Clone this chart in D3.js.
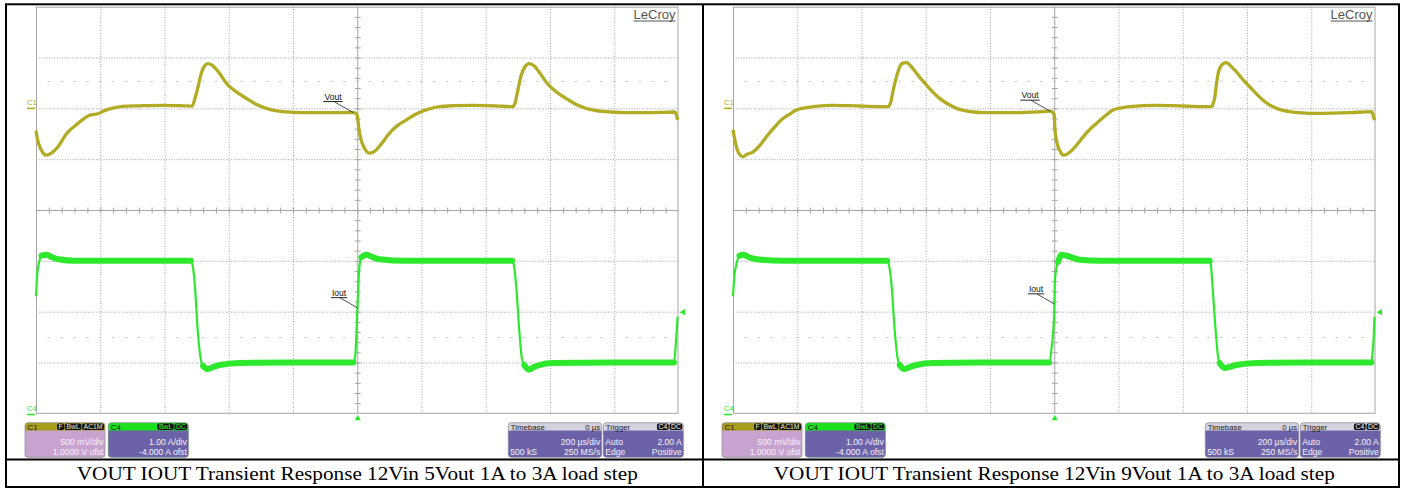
<!DOCTYPE html>
<html>
<head>
<meta charset="utf-8">
<title>VOUT IOUT Transient Response</title>
<script src="https://cdn.jsdelivr.net/npm/d3@7"></script>
<style>
  html, body { margin: 0; padding: 0; background: #fff; }
  svg { display: block; }
</style>
</head>
<body>
<svg id="chart" width="1405" height="489"></svg>
<script>
// ---------------- captured waveforms ----------------
const captions = [
  "VOUT IOUT Transient Response 12Vin 5Vout 1A to 3A load step",
  "VOUT IOUT Transient Response 12Vin 9Vout 1A to 3A load step"
];

// C1: output voltage deviation (V, AC coupled) vs time (µs) — 5 Vout
const vout5 = [
  [-1000,-0.22],[-995,-0.31],[-985,-0.40],[-968,-0.46],[-952,-0.44],[-932,-0.38],[-905,-0.25],
  [-870,-0.15],[-835,-0.07],[-805,-0.05],[-785,-0.02],[-765,0.0],[-730,0.02],[-680,0.025],
  [-606,0.03],[-540,0.025],[-514,0.022],[-505,0.1],[-495,0.22],[-485,0.35],[-475,0.42],
  [-465,0.44],[-452,0.425],[-430,0.35],[-407,0.245],[-375,0.16],[-345,0.098],[-315,0.04],
  [-283,0.0],[-250,-0.025],[-221,-0.035],[-170,-0.042],[-128,-0.043],[-60,-0.042],[-14,-0.041],
  [-4,-0.05],[0,-0.07],[5,-0.2],[12,-0.31],[22,-0.39],[38,-0.44],[55,-0.42],[75,-0.35],
  [100,-0.245],[125,-0.17],[152,-0.115],[180,-0.06],[199,-0.033],[225,-0.005],[256,0.016],
  [300,0.026],[360,0.03],[430,0.025],[484,0.016],[492,0.06],[500,0.18],[510,0.32],[522,0.41],
  [536,0.44],[552,0.415],[570,0.34],[588,0.26],[620,0.16],[650,0.098],[680,0.04],[712,0.0],
  [740,-0.02],[774,-0.033],[830,-0.042],[878,-0.043],[950,-0.04],[987,-0.036],[993,-0.06],[997,-0.115]
];

// C4: load current (A) vs time (µs) — 5 Vout
const iout5 = [
  [-1000,2.3],[-996,2.75],[-991,2.95],[-983,3.1],[-967,3.12],[-950,3.07],[-930,3.03],[-880,3.0],
  [-700,3.0],[-518,3.0],[-512,2.9],[-506,2.56],[-496,1.58],[-488,1.1],[-480,0.93],[-465,0.87],
  [-445,0.92],[-428,0.95],[-366,0.99],[-200,1.0],[-12,1.0],[-6,1.15],[0,2.0],[4,2.6],[8,2.95],
  [13,3.07],[28,3.12],[45,3.08],[69,3.03],[152,3.0],[300,3.0],[482,3.0],[488,2.9],[494,2.56],
  [505,1.58],[512,1.1],[520,0.95],[534,0.86],[550,0.91],[567,0.95],[608,0.99],[800,1.0],
  [986,1.0],[991,1.3],[997,1.9]
];

// C1: output voltage deviation (V) — 9 Vout
const vout9 = [
  [-1000,-0.21],[-993,-0.33],[-984,-0.43],[-969,-0.475],[-955,-0.45],[-938,-0.43],[-915,-0.36],
  [-896,-0.28],[-872,-0.19],[-850,-0.115],[-825,-0.06],[-803,-0.017],[-775,0.005],[-751,0.016],
  [-689,0.03],[-606,0.023],[-518,0.016],[-510,0.05],[-500,0.2],[-491,0.31],[-482,0.4],[-474,0.44],
  [-460,0.45],[-440,0.39],[-420,0.31],[-398,0.23],[-378,0.16],[-357,0.098],[-335,0.05],[-315,0.016],
  [-295,-0.01],[-274,-0.024],[-250,-0.036],[-222,-0.043],[-119,-0.043],[-50,-0.035],[-14,-0.027],
  [-4,-0.04],[0,-0.07],[2,-0.2],[6,-0.3],[12,-0.38],[18,-0.42],[28,-0.46],[40,-0.45],[49,-0.43],
  [70,-0.36],[90,-0.28],[110,-0.21],[132,-0.147],[158,-0.075],[183,-0.017],[210,0.005],[235,0.016],
  [318,0.03],[401,0.023],[490,0.016],[495,0.05],[500,0.115],[505,0.24],[510,0.34],[518,0.41],
  [526,0.44],[536,0.45],[550,0.415],[567,0.36],[588,0.28],[609,0.21],[630,0.14],[650,0.08],
  [670,0.035],[692,0.0],[712,-0.02],[733,-0.033],[770,-0.045],[816,-0.05],[920,-0.043],
  [987,-0.033],[992,-0.06],[997,-0.115]
];

// C4: load current (A) — 9 Vout
const iout9 = [
  [-1000,2.3],[-995,2.75],[-991,2.89],[-980,3.1],[-968,3.12],[-950,3.07],[-926,3.03],[-843,3.0],
  [-700,3.0],[-520,3.0],[-514,2.9],[-507,2.56],[-496,1.58],[-488,1.1],[-481,0.95],[-468,0.87],
  [-450,0.91],[-429,0.95],[-377,0.99],[-200,1.0],[-16,1.0],[-8,1.3],[0,2.0],[2,2.6],[8,2.9],
  [12,2.98],[23,3.12],[39,3.1],[80,3.02],[142,3.0],[300,3.0],[484,3.0],[488,2.9],[492,2.56],
  [503,1.58],[510,1.1],[515,0.99],[530,0.89],[550,0.92],[567,0.95],[629,0.99],[800,1.0],
  [987,1.0],[991,1.2],[994,1.45],[997,1.9]
];

// ---------------- scope settings ----------------
const timeRange = [-1000, 1000];              // µs : 0 µs delay, 200 µs/div
const timeDivs = d3.range(-1000, 1001, 200);
const timeMinor = d3.range(-1000, 1001, 40);
const c1Range = [-3, 1];                      // V : 500 mV/div, 1.0000 V offset
const c1Divs = d3.range(-3, 1.001, 0.5);
const c1Minor = d3.range(-3, 1.001, 0.1);
const c4Range = [0, 8];                       // A : 1.00 A/div, -4.000 A offset
const triggerLevel = 2.0;
const guideV = [0.27];
const guideI = [1.5];

const c1Badges = ["F", "BwL", "AC1M"];
const c1Rows = [["", "500 mV/div"], ["", "1.0000 V ofst"]];
const c4Badges = ["BwL", "DC"];
const c4Rows = [["", "1.00 A/div"], ["", "-4.000 A ofst"]];
const timebaseHead = ["Timebase", "0 µs"];
const timebaseRows = [["", "200 µs/div"], ["500 kS", "250 MS/s"]];
const triggerBadges = ["C4", "DC"];
const triggerRows = [["Auto", "2.00 A"], ["Edge", "Positive"]];

// ---------------- drawing ----------------
const svg = d3.select("#chart");
const SANS = "'Liberation Sans', Arial, sans-serif";
const SERIF = "'Liberation Serif', 'Times New Roman', serif";
const VOUT_COLOR = "#b1ac24";
const IOUT_COLOR = "#2de82d";
const GRID_TOP = 6.7, GRID_BOTTOM = 413.3, GRID_W = 642.5;

const panels = [
  { x0: 36,  vout: vout5, iout: iout5, caption: captions[0] },
  { x0: 733, vout: vout9, iout: iout9, caption: captions[1] }
];

function valueAt(series, t) {
  const i = d3.bisector(d => d[0]).left(series, t);
  if (i <= 0) return series[0][1];
  if (i >= series.length) return series[series.length - 1][1];
  const a = series[i - 1], b = series[i];
  return a[1] + (b[1] - a[1]) * (t - a[0]) / (b[0] - a[0]);
}

// split a trace into its nearly-flat stretches (where the noise band shows)
function flatRuns(series, maxSlope) {
  const runs = [];
  let cur = null;
  for (let i = 1; i < series.length; i++) {
    const a = series[i - 1], b = series[i];
    const s = Math.abs((b[1] - a[1]) / (b[0] - a[0]));
    if (s < maxSlope) {
      if (!cur) { cur = [a]; runs.push(cur); }
      cur.push(b);
    } else cur = null;
  }
  return runs;
}

function badgeRow(g, items, rightX, y, textFill) {
  let xr = rightX;
  for (let k = items.length - 1; k >= 0; k--) {
    const t = g.append("text").attr("y", y + 6).attr("font-family", SANS)
      .attr("font-size", 6.8).attr("fill", textFill).text(items[k]);
    const w = t.node().getComputedTextLength() + 3;
    t.attr("x", xr - w + 1.5);
    g.insert("rect", () => t.node()).attr("x", xr - w).attr("y", y + 0.8)
      .attr("width", w).attr("height", 6.6).attr("rx", 1.8).attr("fill", "#111");
    xr -= w + 0.8;
  }
}

function infoBox(g, bx, by, bw, headFill, bodyFill, headLeft, headRight, badges, badgeFill, rows) {
  const bh = 34.6, hh = 8;
  g.append("rect").attr("x", bx).attr("y", by).attr("width", bw).attr("height", bh)
    .attr("rx", 3).attr("fill", headFill);
  g.append("rect").attr("x", bx).attr("y", by + hh).attr("width", bw).attr("height", bh - hh)
    .attr("rx", 3).attr("fill", bodyFill);
  g.append("rect").attr("x", bx).attr("y", by + hh).attr("width", bw).attr("height", 4)
    .attr("fill", bodyFill);
  g.append("rect").attr("x", bx).attr("y", by).attr("width", bw).attr("height", bh)
    .attr("rx", 3).attr("fill", "none").attr("stroke", "#8a8a9a").attr("stroke-width", 0.7);
  g.append("text").attr("x", bx + 2.5).attr("y", by + 6.8).attr("font-family", SANS)
    .attr("font-size", 7.8).attr("fill", "#1a1a1a").text(headLeft);
  if (headRight) {
    g.append("text").attr("x", bx + bw - 1.5).attr("y", by + 6.8).attr("text-anchor", "end")
      .attr("font-family", SANS).attr("font-size", 7.8).attr("fill", "#1a1a1a").text(headRight);
  }
  if (badges) badgeRow(g, badges, bx + bw - 1, by, badgeFill);
  rows.forEach((r, k) => {
    const y = by + 22.3 + k * 10;
    if (r[0]) g.append("text").attr("x", bx + 2).attr("y", y).attr("font-family", SANS)
      .attr("font-size", 8.6).attr("fill", "#f6f2fa").text(r[0]);
    if (r[1]) g.append("text").attr("x", bx + bw - 1.5).attr("y", y).attr("text-anchor", "end")
      .attr("font-family", SANS).attr("font-size", 8.6).attr("fill", "#f6f2fa").text(r[1]);
  });
}

panels.forEach(p => {
  const x = d3.scaleLinear().domain(timeRange).range([p.x0, p.x0 + GRID_W]);
  const yV = d3.scaleLinear().domain(c1Range).range([GRID_BOTTOM, GRID_TOP]);
  const yI = d3.scaleLinear().domain(c4Range).range([GRID_BOTTOM, GRID_TOP]);
  const g = svg.append("g");
  const xc = x(0), yc = yV(-1);

  // dotted graticule
  const grid = g.append("g").attr("stroke", "#9c9c9c").attr("stroke-width", 0.9)
    .attr("stroke-dasharray", "1,1.6");
  grid.selectAll(".vx").data(timeDivs.slice(1, -1).filter(t => t !== 0)).join("line")
    .attr("x1", d => x(d) + 0.5).attr("x2", d => x(d) + 0.5)
    .attr("y1", GRID_TOP).attr("y2", GRID_BOTTOM);
  grid.selectAll(".hy").data(c1Divs.slice(1, -1).filter(v => Math.abs(v + 1) > 1e-6)).join("line")
    .attr("x1", x.range()[0]).attr("x2", x.range()[1])
    .attr("y1", d => yV(d) + 0.5).attr("y2", d => yV(d) + 0.5);

  // faint guide marks
  const guides = g.append("g").attr("stroke", "#c9c9c9").attr("stroke-width", 1);
  [...guideV.map(v => yV(v)), ...guideI.map(a => yI(a))].forEach(y => {
    guides.selectAll(null).data(timeMinor.slice(1, -1)).join("line")
      .attr("x1", d => x(d) - 1.3).attr("x2", d => x(d) + 1.3)
      .attr("y1", y + 0.5).attr("y2", y + 0.5);
  });

  // frame and centre axes
  const solid = g.append("g").attr("stroke", "#a6a6a6").attr("stroke-width", 1).attr("fill", "none");
  solid.append("rect").attr("x", x.range()[0] + 0.5).attr("y", GRID_TOP + 0.5)
    .attr("width", GRID_W - 1).attr("height", GRID_BOTTOM - GRID_TOP - 0.5);
  solid.append("line").attr("x1", x.range()[0]).attr("x2", x.range()[1])
    .attr("y1", yc + 0.5).attr("y2", yc + 0.5);
  solid.append("line").attr("x1", xc + 0.5).attr("x2", xc + 0.5)
    .attr("y1", GRID_TOP).attr("y2", GRID_BOTTOM);
  solid.selectAll(".tx").data(timeMinor.slice(1, -1)).join("line")
    .attr("x1", d => x(d) + 0.5).attr("x2", d => x(d) + 0.5)
    .attr("y1", yc - 2.5).attr("y2", yc + 3.5);
  solid.selectAll(".ty").data(c1Minor.slice(1, -1)).join("line")
    .attr("x1", xc - 2.5).attr("x2", xc + 3.5)
    .attr("y1", d => yV(d) + 0.5).attr("y2", d => yV(d) + 0.5);

  // traces
  const lineV = d3.line().x(d => x(d[0])).y(d => yV(d[1])).curve(d3.curveMonotoneX);
  const lineI = d3.line().x(d => x(d[0])).y(d => yI(d[1])).curve(d3.curveMonotoneX);
  g.append("path").attr("d", lineV(p.vout)).attr("fill", "none")
    .attr("stroke", VOUT_COLOR).attr("stroke-width", 3.3).attr("stroke-linejoin", "round");
  g.append("path").attr("d", lineI(p.iout)).attr("fill", "none")
    .attr("stroke", IOUT_COLOR).attr("stroke-width", 2.2).attr("stroke-linejoin", "round");
  flatRuns(p.iout, 0.015).forEach(run => {
    g.append("path").attr("d", lineI(run)).attr("fill", "none")
      .attr("stroke", IOUT_COLOR).attr("stroke-width", 6).attr("stroke-linecap", "round");
  });

  // channel reference markers
  g.append("line").attr("x1", p.x0 - 9).attr("x2", p.x0 - 1)
    .attr("y1", yV(0)).attr("y2", yV(0)).attr("stroke", VOUT_COLOR).attr("stroke-width", 1.6);
  g.append("text").attr("x", p.x0 - 9).attr("y", yV(0) - 3).attr("font-family", SANS)
    .attr("font-size", 7.6).attr("fill", VOUT_COLOR).text("C1");
  g.append("line").attr("x1", p.x0 - 9).attr("x2", p.x0 - 1)
    .attr("y1", yI(0) + 1.2).attr("y2", yI(0) + 1.2).attr("stroke", IOUT_COLOR).attr("stroke-width", 1.6);
  g.append("text").attr("x", p.x0 - 9).attr("y", yI(0) - 2.5).attr("font-family", SANS)
    .attr("font-size", 7.6).attr("fill", IOUT_COLOR).text("C4");

  // trigger markers
  g.append("path").attr("fill", IOUT_COLOR)
    .attr("d", `M${xc + 0.5},${GRID_BOTTOM + 1.5} l3,5.5 l-6,0 Z`);
  const ty = yI(triggerLevel);
  g.append("path").attr("fill", IOUT_COLOR)
    .attr("d", `M${x.range()[1] + 1},${ty + 0.5} l5.5,-3.2 l0,6.4 Z`);

  // trace labels with leader lines
  const labels = [
    { text: "Vout", ax: x(-12), ay: yV(valueAt(p.vout, -12)), dx: -29, dy: -13 },
    { text: "Iout", ax: x(0.5), ay: yI(valueAt(p.iout, 0.5)), dx: -25.5, dy: -12 }
  ];
  labels.forEach(l => {
    const t = g.append("text").attr("x", l.ax + l.dx).attr("y", l.ay + l.dy)
      .attr("font-family", SANS).attr("font-size", 8.6).attr("fill", "#111").text(l.text);
    const w = t.node().getComputedTextLength();
    g.append("line").attr("x1", l.ax + l.dx - 1).attr("x2", l.ax + l.dx + w + 1)
      .attr("y1", l.ay + l.dy + 1.8).attr("y2", l.ay + l.dy + 1.8)
      .attr("stroke", "#111").attr("stroke-width", 0.9);
    g.append("line").attr("x1", l.ax + l.dx + w * 0.55).attr("y1", l.ay + l.dy + 1.8)
      .attr("x2", l.ax).attr("y2", l.ay).attr("stroke", "#222").attr("stroke-width", 0.8);
  });

  // brand mark
  const brand = g.append("text").attr("x", x.range()[1] - 3).attr("y", 18.5)
    .attr("text-anchor", "end").attr("font-family", SANS).attr("font-size", 13)
    .attr("fill", "#555").text("LeCroy");
  const bw = brand.node().getComputedTextLength();
  g.append("line").attr("x1", x.range()[1] - 3 - bw).attr("x2", x.range()[1] - 3)
    .attr("y1", 21).attr("y2", 21).attr("stroke", "#555").attr("stroke-width", 1);

  // descriptor boxes
  const by = 422.7;
  infoBox(g, p.x0 - 11, by, 80, "#a79f1c", "#c9a3d0", "C1", null, c1Badges, "#f2efc8", c1Rows);
  infoBox(g, p.x0 + 72.3, by, 80, "#1be01b", "#6c62a8", "C4", null, c4Badges, "#3cff3c", c4Rows);
  infoBox(g, p.x0 + 472.3, by, 93.4, "#d4d2de", "#6c62a8", timebaseHead[0], timebaseHead[1], null, null, timebaseRows);
  infoBox(g, p.x0 + 567.3, by, 80, "#d4d2de", "#6c62a8", "Trigger", null, triggerBadges, "#ffffff", triggerRows);

  // caption
  svg.append("text").attr("x", xc).attr("y", 480).attr("text-anchor", "middle")
    .attr("font-family", SERIF).attr("font-size", 18.6).attr("fill", "#000")
    .attr("textLength", 561).attr("lengthAdjust", "spacingAndGlyphs").text(p.caption);
});

// table frame
const frame = svg.append("g").attr("stroke", "#000").attr("stroke-width", 2).attr("fill", "none");
frame.append("rect").attr("x", 6).attr("y", 4.3).attr("width", 1393).attr("height", 482.7);
frame.append("line").attr("x1", 703).attr("x2", 703).attr("y1", 4.3).attr("y2", 487);
frame.append("line").attr("x1", 6).attr("x2", 1399).attr("y1", 459.5).attr("y2", 459.5);
</script>
</body>
</html>
